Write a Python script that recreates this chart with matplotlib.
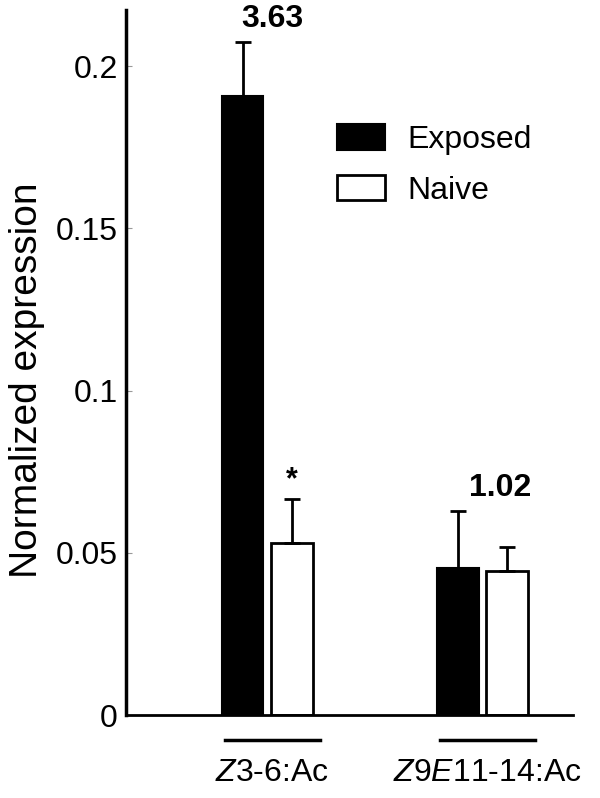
import numpy as np
import matplotlib
matplotlib.use("Agg")
import matplotlib.pyplot as plt
import matplotlib.transforms as mtransforms

plt.rcParams["font.family"] = ["Liberation Sans", "DejaVu Sans"]
plt.rcParams["mathtext.fontset"] = "custom"
plt.rcParams["mathtext.it"] = "Liberation Sans:italic"
plt.rcParams["mathtext.rm"] = "Liberation Sans"

# data
groups = [r"$\it{Z}$3-6:Ac", r"$\it{Z}$9$\it{E}$11-14:Ac"]
exposed = [0.1908, 0.0453]
exposed_err = [0.0166, 0.0176]
naive = [0.0530, 0.0444]
naive_err = [0.0136, 0.0074]
fold_change = ["3.63", "1.02"]
signif = ["*", ""]
yticks = [0, 0.05, 0.1, 0.15, 0.2]
ytick_labels = ["0", "0.05", "0.1", "0.15", "0.2"]

fig = plt.figure(figsize=(6, 7.98), dpi=100)
ax = fig.add_axes([0.21, 0.104, 0.745, 0.8835])

x = np.arange(len(groups))
width = 0.195
off = 0.114

ax.bar(x - off, exposed, width, color="black", edgecolor="black", linewidth=1.5,
       label="Exposed", zorder=2)
ax.bar(x + off, naive, width, color="white", edgecolor="black", linewidth=2,
       label="Naive", zorder=2)
ax.errorbar(x - off, exposed, yerr=[np.zeros(len(x)), exposed_err], fmt="none",
            ecolor="black", elinewidth=2, capsize=6, capthick=2, zorder=3)
ax.errorbar(x + off, naive, yerr=[np.zeros(len(x)), naive_err], fmt="none",
            ecolor="black", elinewidth=2, capsize=6, capthick=2, zorder=3)

# fold change labels above exposed bars, significance star above naive bar
for i in range(len(groups)):
    ax.annotate(fold_change[i], (x[i] - off, exposed[i] + exposed_err[i]),
                xytext=(-1 + 9.5 * i, 6), textcoords="offset points",
                ha="left", va="bottom", fontsize=23, fontweight="bold")
    if signif[i]:
        ax.annotate(signif[i], (x[i] + off, naive[i] + naive_err[i]),
                    xytext=(0, 3), textcoords="offset points",
                    ha="center", va="bottom", fontsize=22, fontweight="bold")

ax.set_xlim(-0.656, 1.423)
ax.set_ylim(0, 0.2173)

ax.set_yticks(yticks)
ax.set_yticklabels(ytick_labels, fontsize=23)
ax.tick_params(axis="y", direction="in", length=4, width=0.8, color="#999999", pad=6)

# group labels with underline
centers = x + 0.025
ax.set_xticks(centers)
ax.set_xticklabels(groups, fontsize=23)
ax.tick_params(axis="x", length=0, pad=31)
trans = mtransforms.blended_transform_factory(ax.transData, ax.transAxes)
for c in centers:
    ax.plot([c - 0.219, c + 0.219], [-0.0355, -0.0355], color="black", lw=2.5,
            transform=trans, clip_on=False)

for side in ["top", "right"]:
    ax.spines[side].set_visible(False)
ax.spines["left"].set_linewidth(2.5)
ax.spines["bottom"].set_linewidth(2)

ax.set_ylabel("Normalized expression", fontsize=28)
ax.yaxis.set_label_coords(-0.182, 0.475)

ax.legend(loc="upper left", bbox_to_anchor=(0.472, 0.838), frameon=False, fontsize=23,
          handlelength=1.5, handleheight=0.85, handletextpad=0.7,
          labelspacing=0.62, borderpad=0, borderaxespad=0)

fig.savefig("out.png", dpi=100)
